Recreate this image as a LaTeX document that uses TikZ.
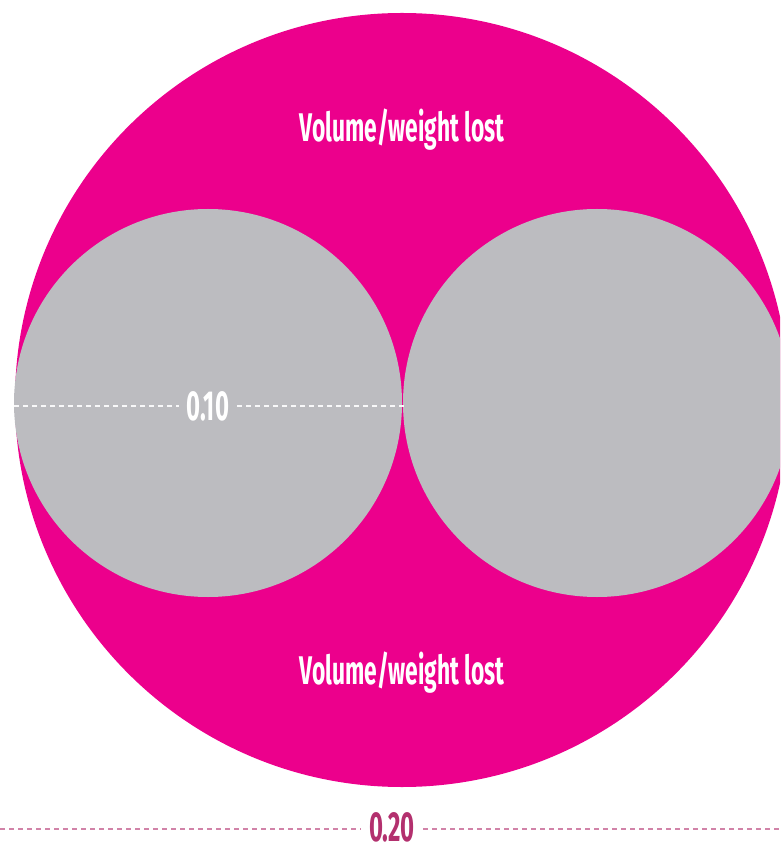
\documentclass[tikz,border=0pt]{standalone}
\usepackage{fontspec}
\newfontfamily\condfont[FakeStretch=0.57]{Fira Sans}
\usepackage{tikz}
\usetikzlibrary{positioning}
\definecolor{lostpink}{HTML}{EC008C}
\definecolor{ballgray}{HTML}{BCBCC0}
\definecolor{rulepink}{HTML}{B3306E}

\begin{document}
\begin{tikzpicture}[x=0.5pt, y=-0.5pt,
    ball/.style={circle, fill=ballgray, inner sep=0pt, minimum size=194pt},
    lbl/.style={font=\condfont\bfseries\fontsize{20}{20}\selectfont, text=white, inner sep=1pt},
    num/.style={lbl, font=\condfont\bfseries\fontsize{21}{21}\selectfont, inner sep=1pt, inner xsep=4pt},
    dim/.style={dash pattern=on 2.5pt off 2pt, line width=0.9pt}]
\useasboundingbox (0,0) rectangle (780,854);
\clip (0,0) rectangle (780,854);
% outer ball
\node[circle, fill=lostpink, inner sep=0pt, minimum size=387pt] (big) at (402,400) {};
% the two inner balls
\node[ball] (left) at (208,403) {};
\node[ball] (right) at (597,403) {};
\node[lbl] (top) at (402,130) {Volume/weight lost};
\node[lbl] (bot) at (402,673) {Volume/weight lost};
% radius of a small ball
\node[num, fill=ballgray] (r) at (208,406) {0.10};
\coordinate (rl) at (14,406);
\coordinate (rr) at (404,406);
\draw[dim, white!90!ballgray] (rl) -- (r) -- (rr);
% width of the big ball
\node[num, text=rulepink, fill=white] (w) at (392,827) {0.20};
\coordinate (wl) at (0,829);
\coordinate (wr) at (780,829);
\draw[dim, rulepink!60] (wl) -- (wl -| w.west) (wr -| w.east) -- (wr);
\end{tikzpicture}
\end{document}
